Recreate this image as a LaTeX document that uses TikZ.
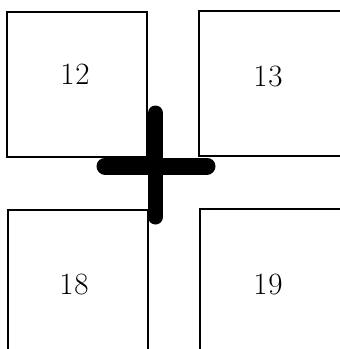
\documentclass[tikz,border=0pt]{standalone}
\begin{document}
\begin{tikzpicture}[x=1pt,y=-1pt,
  box/.style={draw=black,line width=1.8pt},
  lab/.style={font=\fontsize{31}{36}\selectfont,inner sep=0pt},
  bar/.style={draw=black,line cap=round}]
\useasboundingbox (0,0) rectangle (340,349);
\clip (0,0) rectangle (340,349);
\fill[white] (0,0) rectangle (340,349);
\draw[box] (7,12) rectangle (147,157);
\draw[box] (345,11) -- (199,11) -- (199,156) -- (345,156);
\draw[box] (8,355) -- (8,210) -- (148,210) -- (148,355);
\draw[box] (200,355) -- (200,209) -- (345,209);
\node[lab] (n12) at (75,74) {1\kern1pt2};
\node[lab] (n13) at (268,76) {1\kern1pt3};
\node[lab] (n18) at (74,284) {1\kern1pt8};
\node[lab] (n19) at (268,284) {1\kern1pt9};
\draw[bar,line width=15pt] (155.5,113) -- (155.5,217);
\draw[bar,line width=17pt] (105,166) -- (207,166);
\end{tikzpicture}
\end{document}
